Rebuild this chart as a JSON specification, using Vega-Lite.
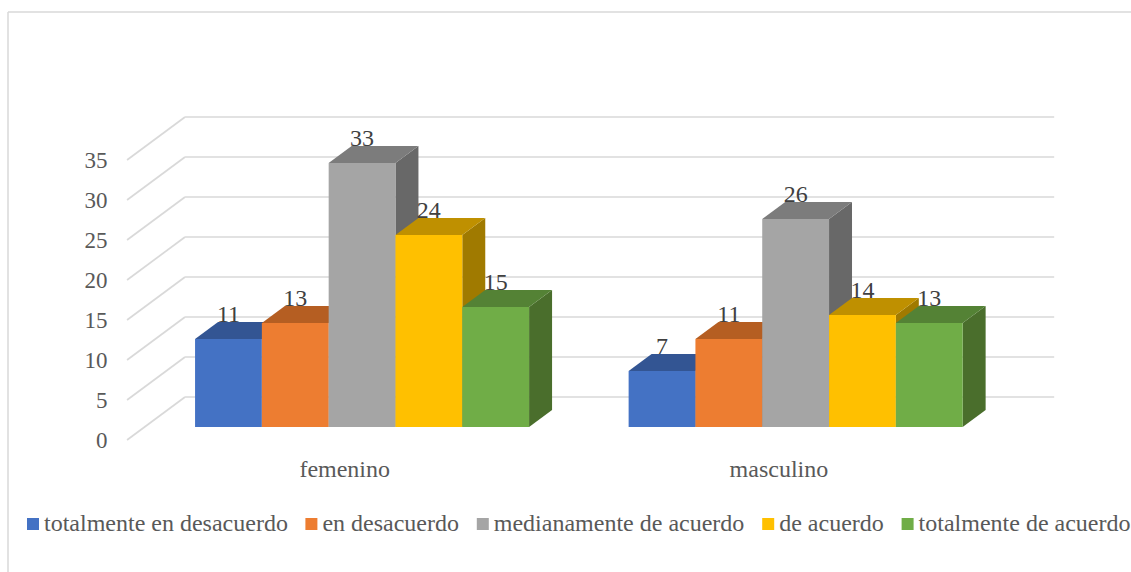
{
  "$schema": "https://vega.github.io/schema/vega-lite/v6.json",
  "width": 1123,
  "height": 560,
  "padding": {"left": 8, "top": 12, "right": 0, "bottom": 0},
  "autosize": {"type": "none"},
  "background": "white",
  "view": {"stroke": null},
  "config": {"font": "Liberation Serif"},
  "datasets": {
    "respuestas": [
      {"sexo": "femenino", "nivel": "totalmente en desacuerdo", "valor": 11},
      {"sexo": "femenino", "nivel": "en desacuerdo", "valor": 13},
      {"sexo": "femenino", "nivel": "medianamente de acuerdo", "valor": 33},
      {"sexo": "femenino", "nivel": "de acuerdo", "valor": 24},
      {"sexo": "femenino", "nivel": "totalmente de acuerdo", "valor": 15},
      {"sexo": "masculino", "nivel": "totalmente en desacuerdo", "valor": 7},
      {"sexo": "masculino", "nivel": "en desacuerdo", "valor": 11},
      {"sexo": "masculino", "nivel": "medianamente de acuerdo", "valor": 26},
      {"sexo": "masculino", "nivel": "de acuerdo", "valor": 14},
      {"sexo": "masculino", "nivel": "totalmente de acuerdo", "valor": 13}
    ],
    "marcas": [
      {"marca": 0}, {"marca": 5}, {"marca": 10}, {"marca": 15},
      {"marca": 20}, {"marca": 25}, {"marca": 30}, {"marca": 35}
    ]
  },
  "resolve": {"scale": {"color": "independent"}},
  "layer": [
    {
      "description": "Back wall gridlines, carrying the value axis",
      "data": {"name": "marcas"},
      "transform": [
        {"calculate": "-0.15", "as": "desde"},
        {"calculate": "12.86", "as": "hasta"},
        {"calculate": "datum.marca + 5.375", "as": "fondo"}
      ],
      "mark": {"type": "rule", "color": "#d9d9d9", "strokeWidth": 1.7},
      "encoding": {
        "x": {"field": "desde", "type": "quantitative", "scale": {"domain": [-2.8, 14.01], "nice": false, "zero": false}, "axis": null},
        "x2": {"field": "hasta"},
        "y": {
          "field": "fondo",
          "type": "quantitative",
          "scale": {"domain": [-16.5, 53.5], "nice": false, "zero": false},
          "axis": {
            "values": [0, 5, 10, 15, 20, 25, 30, 35],
            "title": null,
            "domain": false,
            "ticks": false,
            "grid": false,
            "offset": -99,
            "labelPadding": 0,
            "labelFontSize": 23,
            "labelColor": "#595959",
            "labelFont": "Liberation Serif"
          }
        }
      }
    },
    {
      "description": "Side wall gridlines",
      "data": {"name": "marcas"},
      "transform": [
        {"calculate": "-1.018", "as": "frente"},
        {"calculate": "-0.15", "as": "pared"},
        {"calculate": "datum.marca + 5.375", "as": "fondo"}
      ],
      "mark": {"type": "rule", "color": "#d9d9d9", "strokeWidth": 1.7},
      "encoding": {
        "x": {"field": "frente", "type": "quantitative", "scale": {"domain": [-2.8, 14.01], "nice": false, "zero": false}, "axis": null},
        "x2": {"field": "pared"},
        "y": {"field": "marca", "type": "quantitative", "scale": {"domain": [-16.5, 53.5], "nice": false, "zero": false}},
        "y2": {"field": "fondo"}
      }
    },
    {
      "description": "Chart border, top edge",
      "data": {"values": [{}]},
      "mark": {"type": "rule", "color": "#d9d9d9", "strokeWidth": 1.5},
      "encoding": {
        "y": {"datum": 53.5, "type": "quantitative", "scale": {"domain": [-16.5, 53.5], "nice": false, "zero": false}}
      }
    },
    {
      "description": "Chart border, left edge",
      "data": {"values": [{}]},
      "mark": {"type": "rule", "color": "#d9d9d9", "strokeWidth": 1.5},
      "encoding": {
        "x": {"datum": -2.8, "type": "quantitative", "scale": {"domain": [-2.8, 14.01], "nice": false, "zero": false}, "axis": null}
      }
    },
    {
      "description": "Darker right side of each column",
      "data": {"name": "respuestas"},
      "transform": [
        {"calculate": "indexof(['femenino','masculino'], datum.sexo) * 6.49 + indexof(['totalmente en desacuerdo','en desacuerdo','medianamente de acuerdo','de acuerdo','totalmente de acuerdo'], datum.nivel)", "as": "izq"},
        {"calculate": "[datum.izq + 1, datum.izq + 1.344]", "as": "xs"},
        {"calculate": "[1.625, 3.75]", "as": "lo"},
        {"calculate": "[1.625 + datum.valor, 3.75 + datum.valor]", "as": "hi"},
        {"flatten": ["xs", "lo", "hi"]}
      ],
      "mark": {"type": "area", "orient": "vertical", "opacity": 1},
      "encoding": {
        "x": {"field": "xs", "type": "quantitative", "scale": {"domain": [-2.8, 14.01], "nice": false, "zero": false}, "axis": null},
        "y": {"field": "lo", "type": "quantitative", "scale": {"domain": [-16.5, 53.5], "nice": false, "zero": false}},
        "y2": {"field": "hi"},
        "detail": {"field": "sexo"},
        "color": {
          "field": "nivel",
          "type": "nominal",
          "legend": null,
          "scale": {
            "domain": ["totalmente en desacuerdo", "en desacuerdo", "medianamente de acuerdo", "de acuerdo", "totalmente de acuerdo"],
            "range": ["#2a4a80", "#93501e", "#686868", "#a07a00", "#4a6e2c"]
          }
        }
      }
    },
    {
      "description": "Darker top of each column",
      "data": {"name": "respuestas"},
      "transform": [
        {"calculate": "indexof(['femenino','masculino'], datum.sexo) * 6.49 + indexof(['totalmente en desacuerdo','en desacuerdo','medianamente de acuerdo','de acuerdo','totalmente de acuerdo'], datum.nivel)", "as": "izq"},
        {"calculate": "1.625 + datum.valor", "as": "techo"},
        {"calculate": "[datum.izq, datum.izq + 0.344, datum.izq + 1, datum.izq + 1.344]", "as": "xs"},
        {"calculate": "[datum.techo, datum.techo, datum.techo, datum.techo + 2.125]", "as": "lo"},
        {"calculate": "[datum.techo, datum.techo + 2.125, datum.techo + 2.125, datum.techo + 2.125]", "as": "hi"},
        {"flatten": ["xs", "lo", "hi"]}
      ],
      "mark": {"type": "area", "orient": "vertical", "opacity": 1},
      "encoding": {
        "x": {"field": "xs", "type": "quantitative", "scale": {"domain": [-2.8, 14.01], "nice": false, "zero": false}, "axis": null},
        "y": {"field": "lo", "type": "quantitative", "scale": {"domain": [-16.5, 53.5], "nice": false, "zero": false}},
        "y2": {"field": "hi"},
        "detail": {"field": "sexo"},
        "color": {
          "field": "nivel",
          "type": "nominal",
          "legend": null,
          "scale": {
            "domain": ["totalmente en desacuerdo", "en desacuerdo", "medianamente de acuerdo", "de acuerdo", "totalmente de acuerdo"],
            "range": ["#335593", "#b55e22", "#7c7c7c", "#bf9000", "#548235"]
          }
        }
      }
    },
    {
      "description": "Front face of each column, carrying the legend",
      "data": {"name": "respuestas"},
      "transform": [
        {"calculate": "indexof(['femenino','masculino'], datum.sexo) * 6.49 + indexof(['totalmente en desacuerdo','en desacuerdo','medianamente de acuerdo','de acuerdo','totalmente de acuerdo'], datum.nivel)", "as": "izq"},
        {"calculate": "datum.izq + 1", "as": "der"},
        {"calculate": "1.625", "as": "base"},
        {"calculate": "1.625 + datum.valor", "as": "techo"}
      ],
      "mark": {"type": "rect"},
      "encoding": {
        "x": {"field": "izq", "type": "quantitative", "scale": {"domain": [-2.8, 14.01], "nice": false, "zero": false}, "axis": null},
        "x2": {"field": "der"},
        "y": {"field": "base", "type": "quantitative", "scale": {"domain": [-16.5, 53.5], "nice": false, "zero": false}},
        "y2": {"field": "techo"},
        "color": {
          "field": "nivel",
          "type": "nominal",
          "scale": {
            "domain": ["totalmente en desacuerdo", "en desacuerdo", "medianamente de acuerdo", "de acuerdo", "totalmente de acuerdo"],
            "range": ["#4472c4", "#ed7d31", "#a5a5a5", "#ffc000", "#70ad47"]
          },
          "legend": {
            "title": null,
            "orient": "none",
            "direction": "horizontal",
            "columns": 5,
            "legendX": 13,
            "legendY": 500,
            "symbolType": "square",
            "symbolSize": 144,
            "symbolStrokeWidth": 0,
            "symbolOpacity": 1,
            "labelFontSize": 24,
            "labelColor": "#595959",
            "labelFont": "Liberation Serif",
            "labelOffset": -1,
            "labelLimit": 400,
            "columnPadding": 11.4,
            "padding": 0
          }
        }
      }
    },
    {
      "description": "Value labels above each column",
      "data": {"name": "respuestas"},
      "transform": [
        {"calculate": "indexof(['femenino','masculino'], datum.sexo) * 6.49 + indexof(['totalmente en desacuerdo','en desacuerdo','medianamente de acuerdo','de acuerdo','totalmente de acuerdo'], datum.nivel) + 0.5", "as": "centro"},
        {"calculate": "3.75 + datum.valor", "as": "arriba"}
      ],
      "mark": {"type": "text", "baseline": "alphabetic", "align": "center", "dy": -0.5, "fontSize": 24, "color": "#404040"},
      "encoding": {
        "x": {"field": "centro", "type": "quantitative", "scale": {"domain": [-2.8, 14.01], "nice": false, "zero": false}, "axis": null},
        "y": {"field": "arriba", "type": "quantitative", "scale": {"domain": [-16.5, 53.5], "nice": false, "zero": false}},
        "text": {"field": "valor", "type": "quantitative"}
      }
    },
    {
      "description": "Category names under each group of columns",
      "data": {"name": "respuestas"},
      "transform": [
        {"aggregate": [{"op": "count", "as": "n"}], "groupby": ["sexo"]},
        {"calculate": "indexof(['femenino','masculino'], datum.sexo) * 6.5 + 2.24", "as": "centro"},
        {"calculate": "-3.75", "as": "bajo"}
      ],
      "mark": {"type": "text", "baseline": "middle", "align": "center", "fontSize": 24, "color": "#595959"},
      "encoding": {
        "x": {"field": "centro", "type": "quantitative", "scale": {"domain": [-2.8, 14.01], "nice": false, "zero": false}, "axis": null},
        "y": {"field": "bajo", "type": "quantitative", "scale": {"domain": [-16.5, 53.5], "nice": false, "zero": false}},
        "text": {"field": "sexo", "type": "nominal"}
      }
    }
  ]
}
